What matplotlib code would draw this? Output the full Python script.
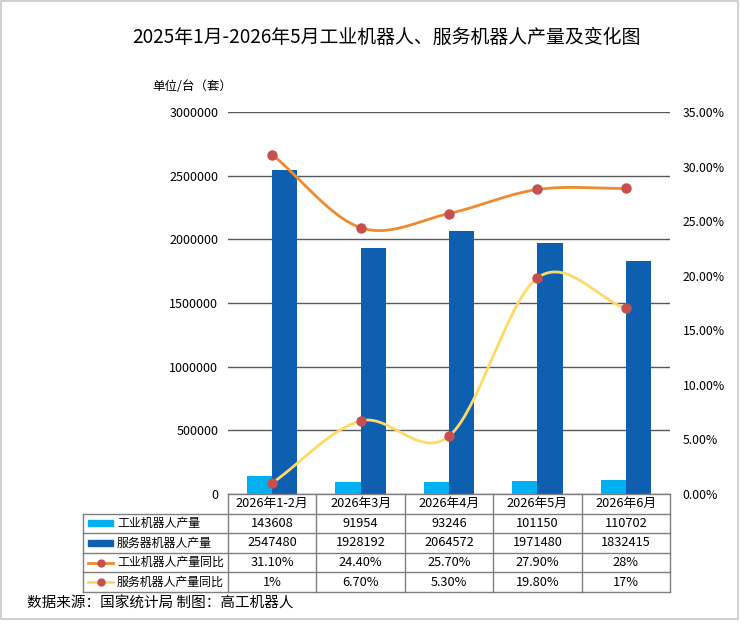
import matplotlib
matplotlib.use("Agg")
import matplotlib.pyplot as plt
from matplotlib.patches import Rectangle
from matplotlib.lines import Line2D
import numpy as np

plt.rcParams['font.family'] = ['Noto Sans CJK SC', 'DejaVu Sans']

title = "2025年1月-2026年5月工业机器人、服务机器人产量及变化图"
categories = ["2026年1-2月", "2026年3月", "2026年4月", "2026年5月", "2026年6月"]
industrial = [143608, 91954, 93246, 101150, 110702]
service = [2547480, 1928192, 2064572, 1971480, 1832415]
industrial_yoy = [31.10, 24.40, 25.70, 27.90, 28.0]
service_yoy = [1.0, 6.70, 5.30, 19.80, 17.0]
industrial_yoy_txt = ["31.10%", "24.40%", "25.70%", "27.90%", "28%"]
service_yoy_txt = ["1%", "6.70%", "5.30%", "19.80%", "17%"]
row_labels = ["工业机器人产量", "服务器机器人产量", "工业机器人产量同比", "服务机器人产量同比"]

c_ind = "#00B0F0"
c_srv = "#0F5FB1"
c_line1 = "#F08A2E"
c_line2 = "#FFD966"
c_mark = "#C5504F"
grid_c = "#595959"
tbl_c = "#7F7F7F"

W, H = 741, 628


def smooth(xs, ys, n=40):
    # catmull-rom curve through the points, like office "smoothed line"
    xs = np.asarray(xs, float)
    ys = np.asarray(ys, float)
    px = np.concatenate([[2 * xs[0] - xs[1]], xs, [2 * xs[-1] - xs[-2]]])
    py = np.concatenate([[2 * ys[0] - ys[1]], ys, [2 * ys[-1] - ys[-2]]])
    ox, oy = [], []
    for i in range(1, len(px) - 2):
        t = np.linspace(0, 1, n)
        for p, out in ((px, ox), (py, oy)):
            p0, p1, p2, p3 = p[i - 1], p[i], p[i + 1], p[i + 2]
            out.extend(0.5 * ((2 * p1) + (-p0 + p2) * t
                              + (2 * p0 - 5 * p1 + 4 * p2 - p3) * t ** 2
                              + (-p0 + 3 * p1 - 3 * p2 + p3) * t ** 3))
    return np.array(ox), np.array(oy)


fig = plt.figure(figsize=(W / 100, H / 100), dpi=100)
fig.patches.append(Rectangle((1 / W, 1 - 619 / H), 737 / W, 618 / H, transform=fig.transFigure,
                             fill=False, edgecolor="#C8C8C8", linewidth=1.2))

x0, x1, ytop, ybot = 228, 670, 112, 494
ax = fig.add_axes([x0 / W, 1 - ybot / H, (x1 - x0) / W, (ybot - ytop) / H])
x = np.arange(len(categories))
bw = 0.285
ax.bar(x - bw / 2, industrial, bw, color=c_ind, zorder=3)
ax.bar(x + bw / 2, service, bw, color=c_srv, zorder=3)
ax.set_xlim(-0.5, len(categories) - 0.5)
ax.set_ylim(0, 3000000)
ax.set_yticks(np.arange(0, 3000001, 500000))
ax.yaxis.grid(True, color=grid_c, linewidth=1.0, zorder=0)
ax.set_xticks([])
ax.tick_params(axis='y', length=0, labelsize=9, pad=7, colors="#000000")
for s in ax.spines.values():
    s.set_visible(False)
ax.set_yticklabels([str(v) for v in range(0, 3000001, 500000)])

ax2 = ax.twinx()
ax2.set_ylim(0, 35)
ax2.set_yticks(np.arange(0, 36, 5))
ax2.set_yticklabels([f"{v:.2f}%" for v in np.arange(0, 36, 5)])
ax2.tick_params(axis='y', length=0, labelsize=8.8, pad=9)
for s in ax2.spines.values():
    s.set_visible(False)
sx, sy = smooth(x, industrial_yoy)
ax2.plot(sx, sy, color=c_line1, linewidth=2, zorder=4)
sx, sy = smooth(x, service_yoy)
ax2.plot(sx, sy, color=c_line2, linewidth=2, zorder=4)
ax2.plot(x, industrial_yoy, 'o', color=c_mark, markersize=6.5, zorder=5)
ax2.plot(x, service_yoy, 'o', color=c_mark, markersize=6.5, zorder=5)

fig.text(152 / W, 1 - 87 / H, "单位/台（套）", fontsize=9, va="center")
fig.text(386 / W, 1 - 37 / H, title, fontsize=13.6, ha="center", va="center")
fig.text(27 / W, 1 - 604 / H, "数据来源：国家统计局 制图：高工机器人", fontsize=10.5, va="center")

# data table under the plot
tx0, ty0, ty1 = 83, 494, 592
tab = fig.add_axes([tx0 / W, 1 - ty1 / H, (x1 - tx0) / W, (ty1 - ty0) / H])
tab.set_xlim(tx0, x1)
tab.set_ylim(ty1, ty0)
tab.axis("off")
cols = np.linspace(x0, x1, len(categories) + 1)
rows = np.linspace(ty0, ty1, 6)
kw = dict(color=tbl_c, linewidth=1, clip_on=False)
tab.plot([x0, x1], [rows[0], rows[0]], **kw)
for r in rows[1:]:
    tab.plot([tx0, x1], [r, r], **kw)
tab.plot([tx0, tx0], [rows[1], rows[-1]], **kw)
for c in cols:
    tab.plot([c, c], [rows[0], rows[-1]], **kw)

table_vals = [[str(v) for v in industrial], [str(v) for v in service],
              industrial_yoy_txt, service_yoy_txt]
for j, cat in enumerate(categories):
    cx = (cols[j] + cols[j + 1]) / 2
    tab.text(cx, (rows[0] + rows[1]) / 2, cat, ha="center", va="center", fontsize=9.2)
    for i in range(4):
        tab.text(cx, (rows[i + 1] + rows[i + 2]) / 2, table_vals[i][j],
                 ha="center", va="center", fontsize=9.2)

for i, lab in enumerate(row_labels):
    cy = (rows[i + 1] + rows[i + 2]) / 2
    if i < 2:
        tab.add_patch(Rectangle((88, cy - 3), 25, 6, color=[c_ind, c_srv][i]))
    else:
        tab.add_line(Line2D([88, 113], [cy, cy], color=[c_line1, c_line2][i - 2], linewidth=2))
        tab.plot(100.5, cy, 'o', color=c_mark, markersize=5)
    tab.text(117, cy, lab, ha="left", va="center", fontsize=8.6)

fig.savefig("out.png", dpi=100)
